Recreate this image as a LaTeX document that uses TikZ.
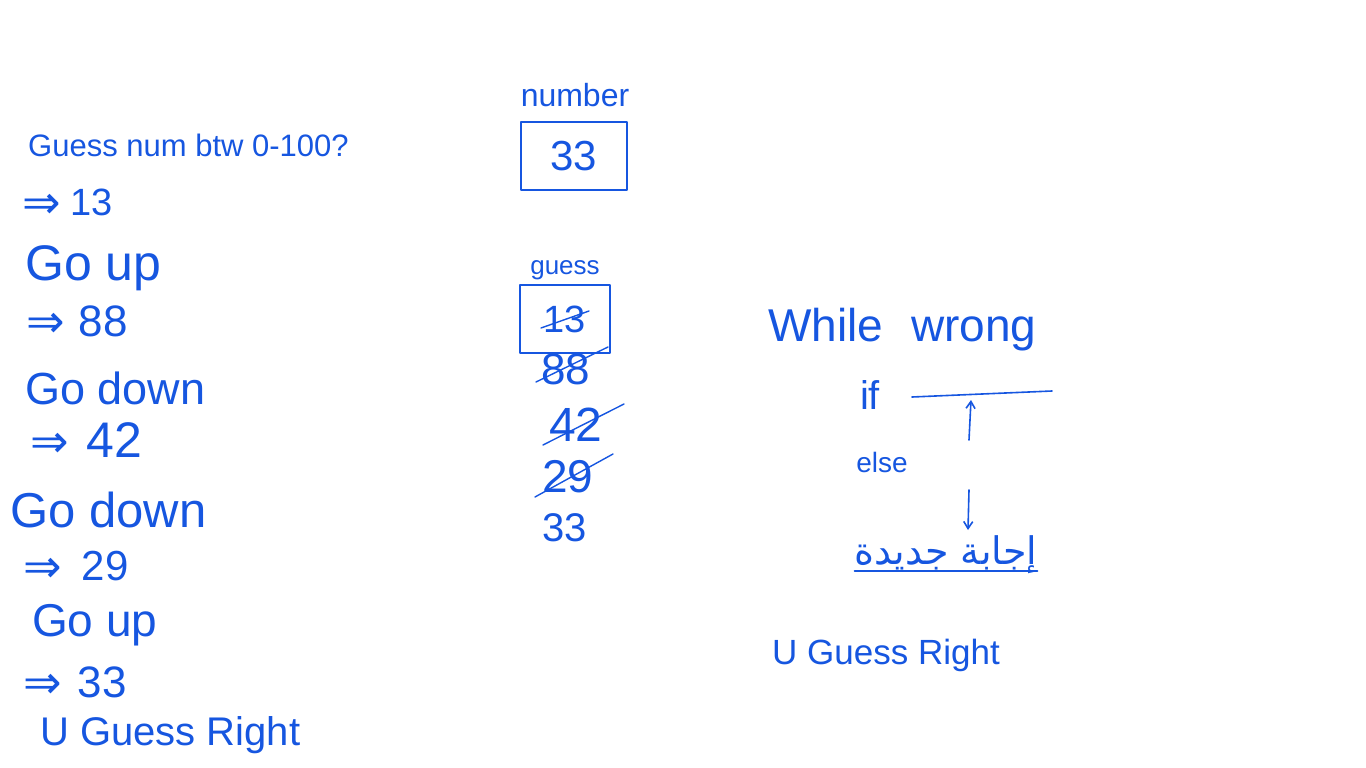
\documentclass[tikz,border=0pt]{standalone}
\usepackage{fontspec}
\setmainfont{Liberation Sans}
\newfontfamily\symfont{DejaVu Sans}
\newfontfamily\arabicfont[Script=Arabic]{DejaVu Sans}
\TeXXeTstate=1
\usetikzlibrary{arrows.meta}
\definecolor{ink}{RGB}{22,86,224}
\newcommand{\darr}[2]{\raisebox{#2}{\symfont\fontsize{46}{46}\selectfont ⇒}\hspace{#1}}
\begin{document}
\begin{tikzpicture}[x=1pt,y=-1pt,
  every node/.style={text=ink,inner sep=0pt},
  fs/.style={font=\fontsize{#1}{#1}\selectfont},
  pen/.style={draw=ink,line width=1.6pt,line cap=round,line join=round},
  box/.style={pen,minimum width=#1,minimum height=68pt},
  strike/.style={pen,line width=1.4pt},
  arr/.style={pen,-{Straight Barb[length=7pt,width=9pt]}}]
\useasboundingbox (0,0) rectangle (1366,768);
% left column
\node[fs=31,anchor=west] (q)   at (28,145) {Guess num btw 0-100?};
\node[fs=38,anchor=west] (a13) at (22,204) {\darr{10pt}{-3pt}13};
\node[fs=50,anchor=west] (u1)  at (25,268) {Go up};
\node[fs=44,anchor=west] (a88) at (26,322) {\darr{14pt}{-1pt}88};
\node[fs=45,anchor=west] (d1)  at (25,388) {Go down};
\node[fs=50,anchor=west] (a42) at (30,440) {\darr{18pt}{0pt}42};
\node[fs=49,anchor=west] (d2)  at (10,510) {Go down};
\node[fs=42,anchor=west] (a29) at (23,567) {\darr{20pt}{-2pt}29};
\node[fs=46,anchor=west] (u2)  at (32,625) {Go up};
\node[fs=44,anchor=west] (a33) at (23,683) {\darr{16pt}{-1pt}33};
\node[fs=40,anchor=west] (r1)  at (40,735) {U Guess Right};
% middle column
\node[fs=32] (num) at (575,95) {number};
\node[fs=42,box=106pt] (nbox) at (574,156) {33};
\node[fs=26] (gl) at (565,270) {guess};
\node[fs=38,box=90pt] (gbox) at (565,319) {13};
\draw[strike] ([shift={(-24,9)}]gbox.center) -- ([shift={(24,-8)}]gbox.center);
\node[fs=44] (g88) at (566,369) {88};
\node[fs=48] (g42) at (576,425) {42};
\node[fs=46] (g29) at (568,477) {29};
\node[fs=40] (g33) at (565,528) {33};
\draw[strike] ([shift={(-30,13)}]g88.center) -- ([shift={(42,-22)}]g88.center);
\draw[strike] ([shift={(-33,20)}]g42.center) -- ([shift={(48,-21)}]g42.center);
\draw[strike] ([shift={(-33,20)}]g29.center) -- ([shift={(45,-23)}]g29.center);
% right side
\node[fs=46,anchor=west] (wh) at (768,330) {While\hspace{28pt}wrong};
\node[fs=40] (if) at (870,395) {if};
\coordinate (b1) at (912,397);
\coordinate (b2) at (1052,391);
\draw[pen] (b1) -- (b2);
\coordinate (ua1) at (969,440);
\coordinate (ua2) at (971,400);
\draw[arr] (ua1) -- (ua2);
\node[fs=28] (el) at (882,462) {else};
\coordinate (da1) at (969,490);
\coordinate (da2) at (968,530);
\draw[arr] (da1) -- (da2);
\node[fs=38] (ar) at (946,555) {\arabicfont\beginR إجابة جديدة\endR};
\draw[pen] ([yshift=3pt]ar.south west) -- ([yshift=3pt]ar.south east);
\node[fs=35] (r2) at (886,655) {U Guess Right};
\end{tikzpicture}
\end{document}
